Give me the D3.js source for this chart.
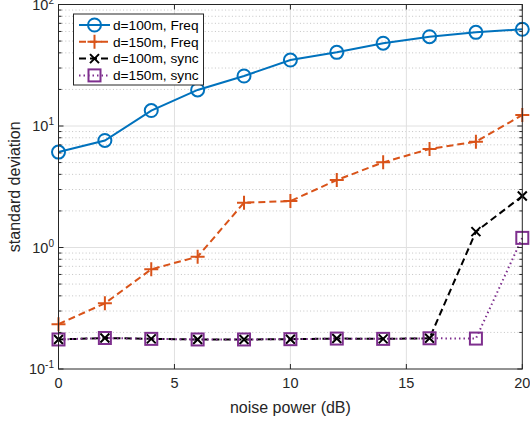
<!DOCTYPE html>
<html>
<head>
<meta charset="utf-8">
<script src="https://cdn.jsdelivr.net/npm/d3@7"></script>
<style>
  body { margin: 0; background: #fff; }
  svg { font-family: "Liberation Sans", Arial, sans-serif; }
</style>
</head>
<body>
<div id="chart"></div>
<script>
// noise power (dB)
var noise = [0, 2, 4, 6, 8, 10, 12, 14, 16, 18, 20];

var freq100 = [6.1, 7.6, 13.4, 19.8, 25.8, 34.9, 40.4, 48.0, 54.3, 59.0, 62.5];
var freq150 = [0.234, 0.347, 0.662, 0.84, 2.34, 2.41, 3.59, 5.02, 6.47, 7.43, 12.3];
var sync100 = [0.175, 0.18, 0.177, 0.175, 0.175, 0.176, 0.178, 0.177, 0.179, 1.35, 2.65];
var sync150 = [0.175, 0.18, 0.177, 0.175, 0.175, 0.176, 0.178, 0.177, 0.179, 0.178, 1.2];

var seriesNames = ["d=100m, Freq", "d=150m, Freq", "d=100m, sync", "d=150m, sync"];
var xTicks = [0, 5, 10, 15, 20];
var yTicks = [0.1, 1, 10, 100];
var yExp = ["-1", "0", "1", "2"];

var series = [
  {name: seriesNames[0], values: freq100, color: "#0072BD", dash: null, marker: "circle"},
  {name: seriesNames[1], values: freq150, color: "#D95319", dash: "7,4", marker: "plus"},
  {name: seriesNames[2], values: sync100, color: "#000000", dash: "7,4", marker: "cross"},
  {name: seriesNames[3], values: sync150, color: "#7E2F8E", dash: "1.5,3", marker: "square"}
];

var width = 530, height = 421;
var pLeft = 58.5, pRight = 522.3, pTop = 4.5, pBottom = 369;

var svg = d3.select("div#chart").append("svg")
  .attr("width", width)
  .attr("height", height);

var xScale = d3.scaleLinear().domain([0, 20]).range([pLeft, pRight]);
var yScale = d3.scaleLog().domain([0.1, 100]).range([pBottom, pTop]);

// minor grid (dotted)
var minor = [];
[0.1, 1, 10].forEach(function(dec) {
  for (var k = 2; k <= 9; k++) minor.push(dec * k);
});
svg.append("g").selectAll("line")
  .data(minor).enter().append("line")
  .attr("x1", pLeft).attr("x2", pRight)
  .attr("y1", d => yScale(d)).attr("y2", d => yScale(d))
  .attr("stroke", "#c4c4c4")
  .attr("stroke-width", 1)
  .attr("stroke-dasharray", "1,2.4");

// major grid
svg.append("g").selectAll("line")
  .data([1, 10]).enter().append("line")
  .attr("x1", pLeft).attr("x2", pRight)
  .attr("y1", d => yScale(d)).attr("y2", d => yScale(d))
  .attr("stroke", "#e0e0e0").attr("stroke-width", 1);
svg.append("g").selectAll("line")
  .data([5, 10, 15]).enter().append("line")
  .attr("y1", pTop).attr("y2", pBottom)
  .attr("x1", d => xScale(d)).attr("x2", d => xScale(d))
  .attr("stroke", "#e0e0e0").attr("stroke-width", 1);

// lines
var line = d3.line()
  .x((d, i) => xScale(noise[i]))
  .y(d => yScale(d));

var g = svg.append("g");
series.forEach(function(s) {
  g.append("path")
    .datum(s.values)
    .attr("d", line)
    .attr("fill", "none")
    .attr("stroke", s.color)
    .attr("stroke-width", 2)
    .attr("stroke-dasharray", s.dash);
});

function drawMarker(sel, type, color, cx, cy) {
  if (type == "circle") {
    sel.append("circle").attr("cx", cx).attr("cy", cy).attr("r", 6.5)
      .attr("fill", "none").attr("stroke", color).attr("stroke-width", 2);
  } else if (type == "plus") {
    sel.append("path")
      .attr("d", "M" + (cx - 7) + "," + cy + "H" + (cx + 7) + "M" + cx + "," + (cy - 7) + "V" + (cy + 7))
      .attr("stroke", color).attr("stroke-width", 2);
  } else if (type == "cross") {
    sel.append("path")
      .attr("d", "M" + (cx - 4.5) + "," + (cy - 4.5) + "L" + (cx + 4.5) + "," + (cy + 4.5) +
                 "M" + (cx + 4.5) + "," + (cy - 4.5) + "L" + (cx - 4.5) + "," + (cy + 4.5))
      .attr("stroke", color).attr("stroke-width", 2);
  } else {
    sel.append("rect").attr("x", cx - 6).attr("y", cy - 6).attr("width", 12).attr("height", 12)
      .attr("fill", "none").attr("stroke", color).attr("stroke-width", 2);
  }
}

series.forEach(function(s) {
  var mg = g.append("g");
  s.values.forEach(function(v, i) {
    drawMarker(mg, s.marker, s.color, xScale(noise[i]), yScale(v));
  });
});

// box + ticks (inside, all four sides)
var axisColor = "#262626";
svg.append("rect")
  .attr("x", pLeft).attr("y", pTop)
  .attr("width", pRight - pLeft).attr("height", pBottom - pTop)
  .attr("fill", "none").attr("stroke", axisColor).attr("stroke-width", 1);

var tk = svg.append("g").attr("stroke", axisColor).attr("stroke-width", 1);
xTicks.forEach(function(t) {
  var x = xScale(t);
  tk.append("line").attr("x1", x).attr("x2", x).attr("y1", pBottom).attr("y2", pBottom - 5);
  tk.append("line").attr("x1", x).attr("x2", x).attr("y1", pTop).attr("y2", pTop + 5);
});
yTicks.forEach(function(t) {
  var y = yScale(t);
  tk.append("line").attr("x1", pLeft).attr("x2", pLeft + 5).attr("y1", y).attr("y2", y);
  tk.append("line").attr("x1", pRight).attr("x2", pRight - 5).attr("y1", y).attr("y2", y);
});
minor.forEach(function(t) {
  var y = yScale(t);
  tk.append("line").attr("x1", pLeft).attr("x2", pLeft + 3).attr("y1", y).attr("y2", y);
  tk.append("line").attr("x1", pRight).attr("x2", pRight - 3).attr("y1", y).attr("y2", y);
});

// tick labels
svg.append("g").selectAll("text")
  .data(xTicks).enter().append("text")
  .attr("x", d => xScale(d))
  .attr("y", 388)
  .attr("text-anchor", "middle")
  .attr("font-size", "14.5px")
  .attr("fill", axisColor)
  .text(d => d);

svg.append("g").selectAll("text")
  .data(yTicks).enter().append("text")
  .attr("x", 54)
  .attr("y", d => yScale(d) + 5)
  .attr("text-anchor", "end")
  .attr("font-size", "14.5px")
  .attr("fill", axisColor)
  .each(function(d, i) {
    var t = d3.select(this);
    t.append("tspan").text("10");
    t.append("tspan").attr("dy", -6).attr("font-size", "10px").text(yExp[i]);
  });

// axis labels
svg.append("text")
  .attr("x", (pLeft + pRight) / 2)
  .attr("y", 413)
  .attr("text-anchor", "middle")
  .attr("font-size", "16px")
  .attr("fill", axisColor)
  .text("noise power (dB)");

svg.append("text")
  .attr("transform", "translate(20," + ((pTop + pBottom) / 2) + ") rotate(-90)")
  .attr("text-anchor", "middle")
  .attr("font-size", "16px")
  .attr("fill", axisColor)
  .text("standard deviation");

// legend
var lg = svg.append("g");
lg.append("rect")
  .attr("x", 73.5).attr("y", 14)
  .attr("width", 130).attr("height", 71)
  .attr("fill", "#fff").attr("stroke", axisColor).attr("stroke-width", 1);
series.forEach(function(s, i) {
  var y = 25 + i * 16.8;
  lg.append("line")
    .attr("x1", 79).attr("x2", 110).attr("y1", y).attr("y2", y)
    .attr("stroke", s.color).attr("stroke-width", 2)
    .attr("stroke-dasharray", s.dash);
  drawMarker(lg, s.marker, s.color, 94.5, y);
  lg.append("text")
    .attr("x", 113).attr("y", y + 4.8)
    .attr("font-size", "13.7px")
    .attr("fill", "#000")
    .text(s.name);
});
</script>
</body>
</html>
